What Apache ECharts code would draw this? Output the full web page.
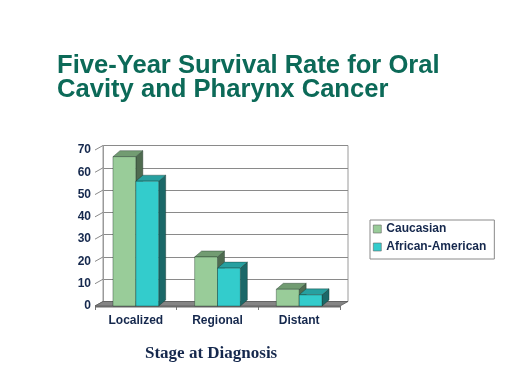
<!DOCTYPE html>
<html>
<head>
<meta charset="utf-8">
<script src="https://cdn.jsdelivr.net/npm/echarts@6/dist/echarts.min.js"></script>
<style>
html,body{margin:0;padding:0;background:#fff;}
#c{width:512px;height:384px;}
</style>
</head>
<body>
<div id="c"></div>
<script>
const categories = ['Localized', 'Regional', 'Distant'];
const seriesNames = ['Caucasian', 'African-American'];
const caucasian = [67, 22, 7.5];
const africanAmerican = [56, 17, 5];
const yTicks = [0, 10, 20, 30, 40, 50, 60, 70];

const NAVY = '#15284d';
const FRONT = { left: 95, top: 150, width: 245, height: 156 };
const WALL_DX = 8, WALL_DY = -4.5;
const BAR_DX = 7, BAR_DY = -6;

function barRenderer(side, front, top, dark) {
  return function (params, api) {
    const cat = api.value(0), v = api.value(1);
    const base = api.coord([cat, 0]);
    const tp = api.coord([cat, v]);
    const bw = api.size([1, 0])[0] * 0.28;
    const x0 = side < 0 ? base[0] - bw : base[0];
    const x1 = x0 + bw;
    const yt = tp[1], yb = base[1];
    const stroke = { stroke: 'rgba(20,40,30,0.6)', lineWidth: 0.6 };
    return {
      type: 'group',
      children: [
        { type: 'polygon', shape: { points: [[x1, yt], [x1 + BAR_DX, yt + BAR_DY], [x1 + BAR_DX, yb + BAR_DY], [x1, yb]] },
          style: Object.assign({ fill: dark }, stroke) },
        { type: 'polygon', shape: { points: [[x0, yt], [x1, yt], [x1 + BAR_DX, yt + BAR_DY], [x0 + BAR_DX, yt + BAR_DY]] },
          style: Object.assign({ fill: top }, stroke) },
        { type: 'rect', shape: { x: x0, y: yt, width: bw, height: yb - yt },
          style: Object.assign({ fill: front }, stroke) }
      ]
    };
  };
}

const option = {
  animation: false,
  backgroundColor: '#fff',
  title: [
    { text: 'Five-Year Survival Rate for Oral\nCavity and Pharynx Cancer', left: 57, top: 54, padding: 0,
      textStyle: { fontFamily: 'Liberation Sans', fontWeight: 'bold', fontSize: 25.6, lineHeight: 24, color: '#0c6a58' } },
    { text: 'Stage at Diagnosis', left: 145, top: 345, padding: 0,
      textStyle: { fontFamily: 'Liberation Serif', fontWeight: 'bold', fontSize: 17, color: NAVY } }
  ],
  legend: {
    data: seriesNames, orient: 'vertical', left: 370, top: 220,
    padding: [3, 8, 6, 3], itemGap: 6, itemWidth: 8, itemHeight: 8, icon: 'rect',
    borderColor: '#8a8a8a', borderWidth: 1, backgroundColor: '#fff',
    itemStyle: { borderColor: '#666', borderWidth: 0.6 },
    textStyle: { fontFamily: 'Liberation Sans', fontWeight: 'bold', fontSize: 12, color: NAVY }
  },
  grid: [
    { left: FRONT.left + WALL_DX, top: FRONT.top + WALL_DY, width: FRONT.width, height: FRONT.height,
      show: true, backgroundColor: '#fff', borderColor: '#9a9a9a', borderWidth: 1 },
    { left: FRONT.left, top: FRONT.top, width: FRONT.width, height: FRONT.height }
  ],
  xAxis: [
    { type: 'category', gridIndex: 0, data: categories, show: false },
    { type: 'category', gridIndex: 1, data: categories,
      axisLine: { show: false },
      axisTick: { show: true, length: 4, lineStyle: { color: '#777' } },
      axisLabel: { margin: 9, fontFamily: 'Liberation Sans', fontWeight: 'bold', fontSize: 12, color: NAVY } }
  ],
  yAxis: [
    { type: 'value', gridIndex: 0, min: 0, max: 70, interval: 10,
      axisLabel: { show: false }, axisTick: { show: false },
      axisLine: { show: true, lineStyle: { color: '#9a9a9a' } },
      splitLine: { show: true, lineStyle: { color: '#8a8a8a', width: 1 } } },
    { type: 'value', gridIndex: 1, min: 0, max: 70, interval: 10,
      axisLine: { show: false }, axisTick: { show: false }, splitLine: { show: false },
      axisLabel: { margin: 4, fontFamily: 'Liberation Sans', fontWeight: 'bold', fontSize: 12, color: NAVY } }
  ],
  series: [
    { type: 'custom', name: 'wallTicks', xAxisIndex: 1, yAxisIndex: 1, silent: true, z: 1,
      data: yTicks.map(v => [0, v]),
      renderItem: function (params, api) {
        const p = api.coord([0, api.value(1)]);
        const x = params.coordSys.x;
        return { type: 'line', shape: { x1: x, y1: p[1], x2: x + WALL_DX, y2: p[1] + WALL_DY },
          style: { stroke: '#8a8a8a', lineWidth: 1 } };
      } },
    { type: 'custom', name: 'floor', xAxisIndex: 1, yAxisIndex: 1, silent: true, z: 1,
      data: [[0, 0]],
      renderItem: function (params, api) {
        const cs = params.coordSys;
        const y0 = api.coord([0, 0])[1];
        const xl = cs.x, xr = cs.x + cs.width;
        return { type: 'group', children: [
          { type: 'polygon', shape: { points: [[xl, y0], [xr, y0], [xr + WALL_DX, y0 + WALL_DY], [xl + WALL_DX, y0 + WALL_DY]] },
            style: { fill: '#858585', stroke: '#5a5a5a', lineWidth: 0.8 } },
          { type: 'polygon', shape: { points: [[xl, y0], [xr, y0], [xr, y0 + 1.5], [xl, y0 + 1.5]] },
            style: { fill: '#6a6a6a' } }
        ] };
      } },
    { type: 'custom', name: 'Caucasian', xAxisIndex: 1, yAxisIndex: 1, z: 3,
      itemStyle: { color: '#99cc99' },
      data: caucasian.map((v, i) => [i, v]),
      renderItem: barRenderer(-1, '#99cc99', '#729c72', '#4f6b50') },
    { type: 'custom', name: 'African-American', xAxisIndex: 1, yAxisIndex: 1, z: 4,
      itemStyle: { color: '#33cccc' },
      data: africanAmerican.map((v, i) => [i, v]),
      renderItem: barRenderer(1, '#33cccc', '#27a0a0', '#1b6868') }
  ]
};

const chart = echarts.init(document.getElementById('c'), null, { renderer: 'canvas' });
chart.setOption(option);
</script>
</body>
</html>
